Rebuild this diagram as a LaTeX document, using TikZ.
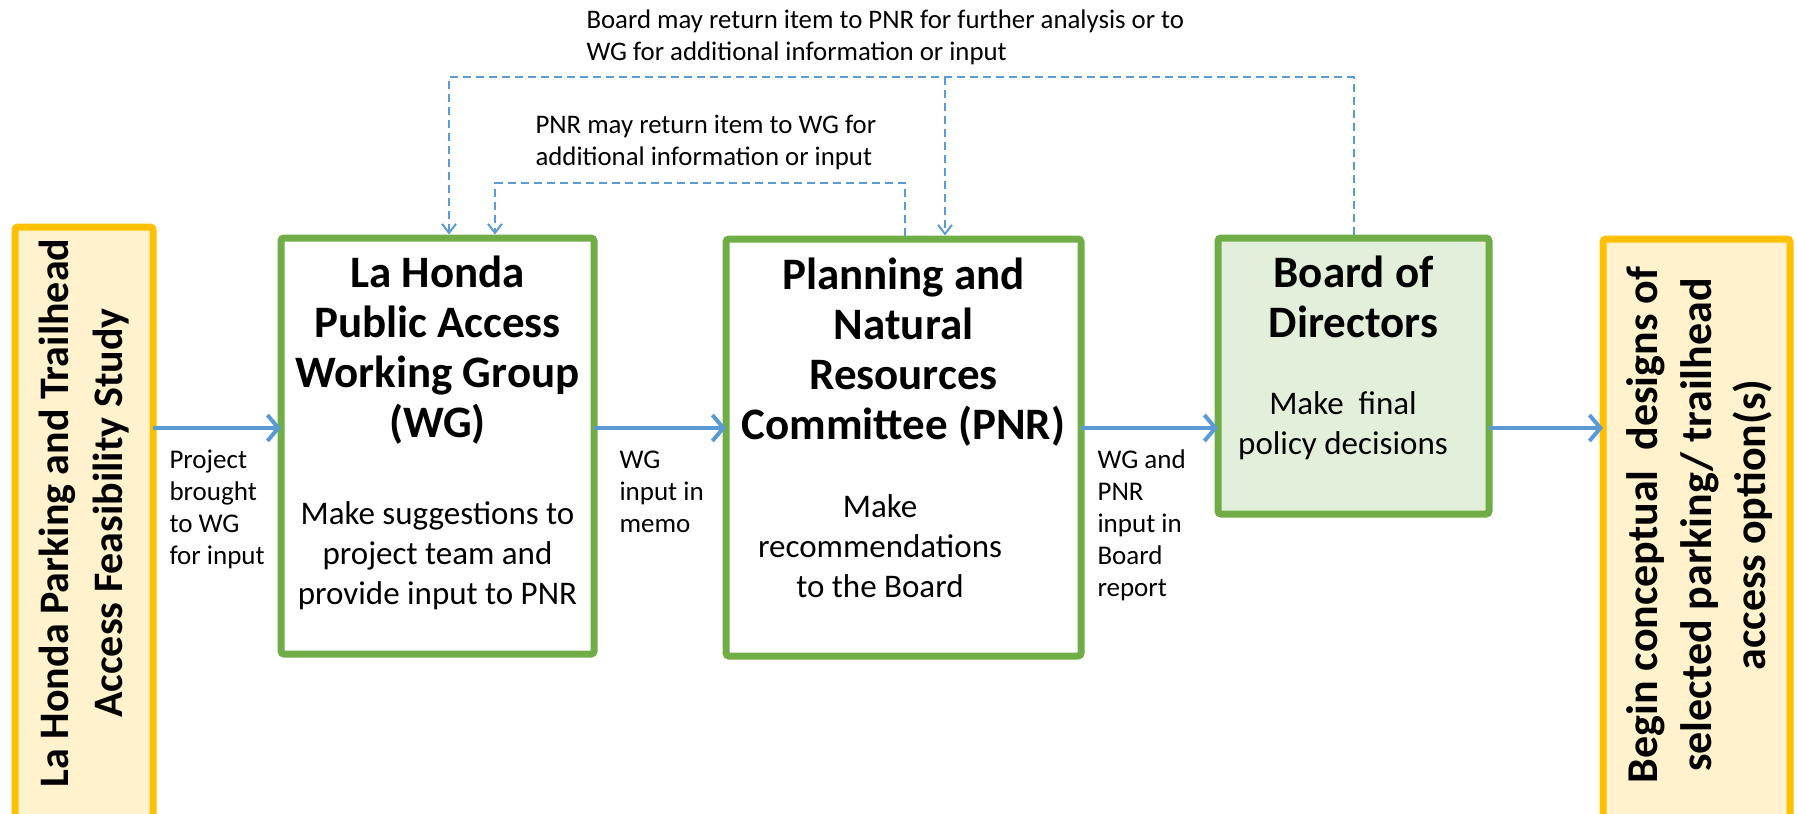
\documentclass[tikz,border=0pt]{standalone}
\usepackage{fontspec}
\setmainfont{Carlito}
\usetikzlibrary{arrows.meta}

\begin{document}
\begin{tikzpicture}[x=1pt,y=-1pt,
  mybox/.style={draw=boxgreen,line width=7pt,inner sep=0pt,outer sep=0pt,rounded corners=3pt},
  sidebox/.style={draw=sideorange,fill=sidecream,line width=7pt,inner sep=0pt,outer sep=0pt,rounded corners=3pt},
  head/.style={align=center,anchor=base,font=\fontsize{45}{50}\selectfont\bfseries},
  body/.style={align=center,anchor=base,font=\fontsize{33}{40}\selectfont},
  side/.style={align=center,rotate=90,font=\fontsize{42}{54}\selectfont\bfseries},
  note/.style={align=left,anchor=base west,font=\fontsize{27}{32}\selectfont},
  flow/.style={draw=flowblue,line width=4pt,-{Straight Barb[length=11pt,width=26pt]}},
  back/.style={draw=flowblue,line width=2pt,dash pattern=on 8pt off 5pt,-{Straight Barb[length=9pt,width=14pt]}}]
\definecolor{boxgreen}{HTML}{70AD47}
\definecolor{sideorange}{HTML}{FFC000}
\definecolor{sidecream}{HTML}{FFF2CC}
\definecolor{boardfill}{HTML}{E2EFDA}
\definecolor{flowblue}{HTML}{5B9BD5}
\useasboundingbox (0,0) rectangle (1797,814);
% boxes
\node[sidebox,minimum width=138pt,minimum height=613pt] (lhs) at (84,533.5) {};
\node[mybox,minimum width=313pt,minimum height=416pt] (wg) at (437.5,446) {};
\node[mybox,minimum width=355pt,minimum height=417pt] (pnr) at (903.5,447.5) {};
\node[mybox,fill=boardfill,minimum width=271pt,minimum height=276pt] (bod) at (1353.5,376) {};
\node[sidebox,minimum width=187pt,minimum height=601pt] (rhs) at (1696.5,539.5) {};
% box texts (base = last line)
\node[side] (lhstext) at (84,513) {La Honda Parking and Trailhead\\Access Feasibility Study};
\node[side,font=\fontsize{44}{54}\selectfont\bfseries] (rhstext) at (1700,525) {Begin conceptual~ designs of\\selected parking/ trailhead\\access option(s)};
\node[head] (wghead) at (437.5,437) {La Honda\\Public Access\\Working Group\\(WG)};
\node[body] (wgbody) at (437.5,604) {Make suggestions to\\project team and\\provide input to PNR};
\node[head] (pnrhead) at (903.5,439) {Planning and\\Natural\\Resources\\Committee (PNR)};
\node[body] (pnrbody) at (880,597) {Make\\recommendations\\to the Board};
\node[head] (bodhead) at (1353.5,337) {Board of\\Directors};
\node[body] (bodbody) at (1343,454) {Make~ final\\policy decisions};
% labels
\node[note] (lbla) at (166,564) {Project\\brought\\to WG\\for input};
\node[note] (lblb) at (616,532) {WG\\input in\\memo};
\node[note] (lblc) at (1094,596) {WG and\\PNR\\input in\\Board\\report};
\node[note,font=\fontsize{26.8}{32}\selectfont] (topa) at (583,60) {Board may return item to PNR for further analysis or to\\WG for additional information or input};
\node[note,font=\fontsize{26.8}{32}\selectfont] (topb) at (532,165) {PNR may return item to WG for\\additional information or input};
% connectors
\coordinate (mid) at (0,428);
\coordinate (c1) at (449,77);
\coordinate (c2) at (945,77);
\coordinate (c3) at (495,183);
\coordinate (c4) at (905,183);
\foreach \a/\b in {lhs/wg,wg/pnr,pnr/bod,bod/rhs}
  \draw[flow] (\a.east |- mid) -- (\b.west |- mid);
\draw[back,shorten <=3.5pt,shorten >=3.5pt] (bod.north) -- (bod.north |- c1) -- (c1) -- (c1 |- wg.north);
\draw[back,shorten >=3.5pt] (c2) -- (c2 |- pnr.north);
\draw[back,shorten <=3.5pt,shorten >=3.5pt] (c4 |- pnr.north) -- (c4) -- (c3) -- (c3 |- wg.north);
\end{tikzpicture}
\end{document}
